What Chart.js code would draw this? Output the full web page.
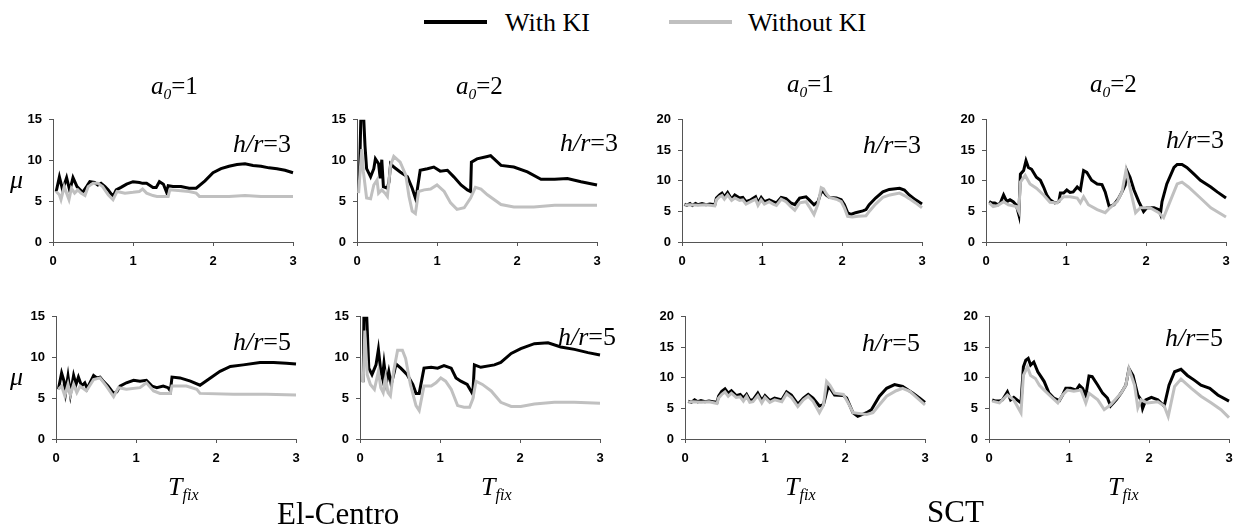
<!DOCTYPE html>
<html>
<head>
<meta charset="utf-8">
<script src="https://cdn.jsdelivr.net/npm/chart.js@4.4.1/dist/chart.umd.min.js"></script>
<style>
  html, body { margin: 0; padding: 0; background: #fff; }
  #fig { position: relative; width: 1237px; height: 529px; overflow: hidden;
         font-family: "Liberation Serif", "Times New Roman", serif; color: #000; }
  .box { position: absolute; }
  .lbl { position: absolute; white-space: nowrap; line-height: 1; }
  .sub { font-size: 0.62em; position: relative; top: 0.3em; }
  .key { position: absolute; height: 4px; width: 63px; }
</style>
</head>
<body>
<div id="fig">
  <div class="key" style="left:424px; top:20px; background:#000;"></div>
  <div class="lbl" style="left:505px; top:10px; font-size:26px;">With KI</div>
  <div class="key" style="left:669px; top:20px; background:#c0c0c0;"></div>
  <div class="lbl" style="left:748px; top:10px; font-size:26px;">Without KI</div>
</div>
<script>
// x values are T_fix, y values are ductility demand mu
const xTicks = [0, 1, 2, 3];

// El-Centro, a0 = 1, h/r = 3
const elcA1H3With = [[0.04,6.2],[0.08,8.0],[0.12,6.4],[0.17,7.9],[0.21,6.3],[0.25,7.9],[0.3,6.8],[0.33,6.5],[0.37,6.1],[0.42,6.8],[0.46,7.4],[0.52,7.3],[0.56,7.0],[0.6,7.2],[0.65,6.8],[0.69,6.4],[0.75,5.6],[0.79,6.4],[0.85,6.7],[0.92,7.1],[1.0,7.4],[1.08,7.3],[1.12,7.2],[1.17,7.2],[1.25,6.7],[1.29,6.7],[1.33,7.4],[1.38,7.1],[1.4,6.6],[1.42,6.1],[1.44,6.9],[1.5,6.8],[1.6,6.8],[1.7,6.6],[1.79,6.6],[1.9,7.5],[2.0,8.5],[2.1,9.0],[2.2,9.3],[2.3,9.5],[2.4,9.6],[2.5,9.4],[2.6,9.3],[2.7,9.1],[2.8,9.0],[2.9,8.8],[3.0,8.5]];
const elcA1H3Without = [[0.04,6.2],[0.08,5.8],[0.1,5.2],[0.14,6.8],[0.17,6.0],[0.2,5.2],[0.23,6.6],[0.27,6.0],[0.31,6.4],[0.35,6.0],[0.4,5.7],[0.44,6.8],[0.5,7.2],[0.56,7.2],[0.62,6.8],[0.69,5.8],[0.75,5.2],[0.8,6.2],[0.9,6.0],[1.0,6.1],[1.08,6.2],[1.12,6.5],[1.17,6.0],[1.25,5.7],[1.3,5.6],[1.44,5.6],[1.46,6.4],[1.6,6.3],[1.7,6.2],[1.79,6.0],[1.83,5.6],[2.0,5.6],[2.2,5.6],[2.4,5.7],[2.6,5.6],[2.8,5.6],[3.0,5.6]];

// El-Centro, a0 = 2, h/r = 3
const elcA2H3With = [[0.03,7.6],[0.05,16],[0.08,16],[0.1,11.8],[0.12,9.0],[0.17,8.0],[0.21,9.0],[0.23,10.2],[0.27,9.6],[0.29,7.8],[0.31,10.1],[0.33,6.8],[0.38,6.6],[0.4,7.4],[0.42,9.6],[0.46,9.2],[0.54,8.6],[0.63,8.0],[0.69,6.6],[0.73,5.4],[0.75,6.2],[0.79,8.8],[0.88,9.0],[0.96,9.2],[1.04,8.7],[1.13,8.8],[1.21,8.0],[1.3,7.0],[1.38,6.4],[1.42,6.2],[1.43,9.8],[1.5,10.2],[1.63,10.5],[1.67,10.6],[1.8,9.4],[1.96,9.2],[2.13,8.6],[2.3,7.7],[2.47,7.7],[2.63,7.8],[2.8,7.4],[3.0,7.0]];
const elcA2H3Without = [[0.02,6.0],[0.06,11.4],[0.08,8.6],[0.12,5.4],[0.17,5.3],[0.21,7.0],[0.25,7.6],[0.27,6.0],[0.31,6.4],[0.35,6.0],[0.38,5.6],[0.42,9.4],[0.46,10.5],[0.54,9.8],[0.61,8.2],[0.65,5.6],[0.69,3.8],[0.73,3.5],[0.77,6.2],[0.84,6.4],[0.92,6.5],[1.0,7.0],[1.09,6.2],[1.17,4.8],[1.25,4.0],[1.34,4.2],[1.42,5.4],[1.48,6.7],[1.55,6.5],[1.63,5.8],[1.8,4.6],[1.96,4.3],[2.21,4.3],[2.47,4.5],[2.72,4.5],[3.0,4.5]];

// SCT, a0 = 1, h/r = 3
const sctA1H3With = [[0.03,6.2],[0.06,6.0],[0.1,6.3],[0.13,6.0],[0.17,6.3],[0.2,6.1],[0.25,6.3],[0.3,6.1],[0.35,6.2],[0.41,6.1],[0.43,7.2],[0.47,7.7],[0.5,8.0],[0.53,7.4],[0.57,8.1],[0.62,7.0],[0.66,7.7],[0.72,7.2],[0.76,7.3],[0.8,6.6],[0.86,6.9],[0.92,7.4],[0.95,6.4],[0.99,7.3],[1.03,6.6],[1.09,6.9],[1.14,6.6],[1.18,6.4],[1.24,7.3],[1.3,7.1],[1.36,6.4],[1.41,6.1],[1.47,7.2],[1.55,7.4],[1.59,6.9],[1.65,6.1],[1.7,6.6],[1.74,8.2],[1.77,8.2],[1.8,7.7],[1.84,7.3],[1.93,7.2],[1.99,6.9],[2.03,6.1],[2.07,4.8],[2.11,4.5],[2.17,4.8],[2.26,5.1],[2.3,5.3],[2.34,6.1],[2.42,7.2],[2.51,8.2],[2.59,8.6],[2.72,8.8],[2.78,8.5],[2.84,7.7],[2.92,6.9],[3.0,6.2]];
const sctA1H3Without = [[0.03,6.0],[0.1,6.1],[0.2,6.0],[0.3,6.1],[0.41,5.9],[0.43,6.9],[0.47,7.4],[0.5,7.6],[0.53,7.0],[0.57,7.7],[0.62,6.8],[0.66,7.2],[0.72,6.8],[0.76,6.9],[0.8,6.2],[0.86,6.6],[0.92,7.0],[0.95,6.0],[0.99,6.9],[1.03,6.2],[1.09,6.6],[1.14,6.2],[1.18,6.0],[1.24,7.0],[1.3,6.6],[1.36,5.8],[1.41,5.2],[1.47,6.4],[1.55,6.6],[1.59,5.8],[1.65,4.5],[1.7,6.2],[1.74,8.9],[1.77,8.7],[1.8,8.0],[1.84,7.3],[1.93,7.0],[1.99,6.6],[2.03,5.6],[2.07,4.2],[2.13,4.1],[2.2,4.2],[2.3,4.3],[2.34,5.0],[2.42,6.2],[2.51,7.3],[2.6,7.7],[2.72,8.0],[2.78,7.6],[2.84,7.1],[2.92,6.4],[3.0,5.6]];

// SCT, a0 = 2, h/r = 3
const sctA2H3With = [[0.04,6.6],[0.07,6.4],[0.11,6.4],[0.15,6.1],[0.18,6.4],[0.22,7.7],[0.26,6.6],[0.3,6.9],[0.34,6.6],[0.38,6.0],[0.41,4.5],[0.43,11.1],[0.47,11.7],[0.5,13.3],[0.53,12.2],[0.57,11.9],[0.63,10.6],[0.68,10.1],[0.72,9.0],[0.76,7.7],[0.8,6.9],[0.86,6.4],[0.91,6.6],[0.93,8.0],[0.97,8.0],[1.01,8.5],[1.05,8.1],[1.09,8.2],[1.14,9.0],[1.18,8.5],[1.22,11.7],[1.26,11.4],[1.32,10.1],[1.39,9.5],[1.45,9.4],[1.49,8.2],[1.54,5.8],[1.6,6.1],[1.66,7.2],[1.7,8.2],[1.74,9.3],[1.76,11.7],[1.8,10.6],[1.85,8.5],[1.91,6.6],[1.97,5.0],[2.01,5.6],[2.1,5.6],[2.16,5.3],[2.18,4.6],[2.2,6.6],[2.26,9.5],[2.35,12.2],[2.39,12.7],[2.45,12.7],[2.51,12.2],[2.6,11.1],[2.68,10.1],[2.81,9.0],[2.89,8.2],[3.0,7.2]];
const sctA2H3Without = [[0.04,6.4],[0.09,5.8],[0.15,6.0],[0.22,6.6],[0.28,6.1],[0.38,5.8],[0.41,5.0],[0.43,9.8],[0.49,10.9],[0.55,9.5],[0.63,8.8],[0.72,7.7],[0.8,6.5],[0.89,6.4],[0.97,7.4],[1.05,7.4],[1.14,7.2],[1.18,6.4],[1.22,7.4],[1.28,6.1],[1.39,5.3],[1.49,4.8],[1.55,5.6],[1.64,6.6],[1.7,8.2],[1.75,11.7],[1.8,8.8],[1.87,4.8],[1.93,5.6],[2.05,5.6],[2.16,4.8],[2.22,4.0],[2.3,6.6],[2.39,9.5],[2.45,9.8],[2.53,9.0],[2.68,7.2],[2.81,5.6],[3.0,4.1]];

// El-Centro, a0 = 1, h/r = 5
const elcA1H5With = [[0.03,6.1],[0.07,8.1],[0.1,7.1],[0.12,5.7],[0.15,7.7],[0.18,5.5],[0.22,7.8],[0.25,6.7],[0.28,7.6],[0.32,6.5],[0.36,6.9],[0.39,6.2],[0.47,7.8],[0.51,7.5],[0.55,7.6],[0.59,7.1],[0.65,6.5],[0.72,5.6],[0.76,5.8],[0.8,6.5],[0.88,6.9],[0.97,7.2],[1.05,7.1],[1.13,7.2],[1.2,6.5],[1.26,6.3],[1.34,6.5],[1.4,6.3],[1.43,5.9],[1.45,7.6],[1.55,7.5],[1.68,7.1],[1.8,6.6],[1.93,7.5],[2.05,8.3],[2.18,8.9],[2.34,9.1],[2.55,9.4],[2.72,9.4],[2.88,9.3],[3.0,9.2]];
const elcA1H5Without = [[0.03,6.1],[0.07,6.5],[0.11,5.3],[0.15,6.7],[0.18,5.4],[0.22,6.7],[0.26,5.7],[0.3,6.5],[0.38,5.9],[0.47,7.3],[0.55,7.5],[0.63,6.5],[0.72,5.2],[0.78,6.3],[0.88,6.1],[1.05,6.3],[1.13,6.9],[1.22,5.9],[1.3,5.6],[1.43,5.6],[1.45,6.5],[1.63,6.5],[1.76,6.1],[1.8,5.6],[2.22,5.5],[2.63,5.5],[3.0,5.4]];

// El-Centro, a0 = 2, h/r = 5
const elcA2H5With = [[0.04,7.0],[0.05,16],[0.08,16],[0.11,8.7],[0.15,7.9],[0.2,9.1],[0.23,11.0],[0.26,8.3],[0.28,7.5],[0.3,9.3],[0.33,6.9],[0.36,8.3],[0.39,6.7],[0.43,8.3],[0.45,9.2],[0.51,8.7],[0.59,7.9],[0.66,6.7],[0.7,5.6],[0.74,5.6],[0.8,8.7],[0.89,8.8],[0.97,8.7],[1.05,9.0],[1.14,8.7],[1.2,7.5],[1.26,7.1],[1.34,6.7],[1.41,5.5],[1.43,9.1],[1.51,8.8],[1.68,9.1],[1.76,9.4],[1.89,10.5],[2.01,11.1],[2.18,11.7],[2.35,11.8],[2.51,11.3],[2.68,11.0],[2.85,10.6],[3.0,10.3]];
const elcA2H5Without = [[0.04,6.9],[0.06,13.3],[0.09,7.9],[0.13,6.7],[0.18,6.1],[0.23,8.3],[0.26,6.3],[0.29,5.7],[0.32,7.5],[0.35,5.7],[0.38,5.3],[0.42,8.3],[0.47,10.9],[0.53,10.9],[0.57,9.9],[0.63,6.7],[0.7,4.1],[0.74,3.5],[0.8,6.5],[0.89,6.5],[0.95,6.9],[1.01,7.5],[1.07,7.1],[1.14,6.1],[1.22,4.1],[1.3,3.9],[1.37,3.9],[1.41,4.9],[1.45,7.1],[1.53,6.7],[1.64,5.9],[1.76,4.5],[1.89,4.0],[2.01,4.0],[2.18,4.3],[2.43,4.5],[2.68,4.5],[3.0,4.4]];

// SCT, a0 = 1, h/r = 5
const sctA1H5With = [[0.04,6.2],[0.08,6.0],[0.12,6.4],[0.16,6.1],[0.2,6.3],[0.25,6.1],[0.3,6.2],[0.35,6.1],[0.4,6.0],[0.42,7.0],[0.46,7.8],[0.5,8.2],[0.54,7.5],[0.58,7.9],[0.64,7.1],[0.69,7.3],[0.73,6.7],[0.77,7.3],[0.81,6.4],[0.85,6.4],[0.91,7.5],[0.96,6.3],[1.0,7.1],[1.06,6.3],[1.12,6.7],[1.21,6.4],[1.27,7.7],[1.33,7.2],[1.41,5.7],[1.48,6.7],[1.54,7.3],[1.6,6.7],[1.68,5.4],[1.73,5.6],[1.79,8.6],[1.83,8.0],[1.87,7.2],[1.98,7.1],[2.02,6.7],[2.1,4.3],[2.16,3.7],[2.27,4.3],[2.33,4.8],[2.43,7.0],[2.52,8.3],[2.62,8.9],[2.72,8.6],[2.85,7.5],[2.93,6.7],[3.0,6.0]];
const sctA1H5Without = [[0.04,6.0],[0.1,6.1],[0.2,6.0],[0.3,6.1],[0.4,5.8],[0.42,6.7],[0.46,7.3],[0.5,7.7],[0.54,7.0],[0.58,7.5],[0.64,6.8],[0.69,6.9],[0.73,6.2],[0.77,7.0],[0.81,6.0],[0.85,6.1],[0.91,7.1],[0.96,5.9],[1.0,6.8],[1.06,6.0],[1.12,6.4],[1.21,6.1],[1.27,7.4],[1.33,6.8],[1.41,5.3],[1.48,6.4],[1.54,7.0],[1.6,6.2],[1.68,4.3],[1.73,5.5],[1.77,9.4],[1.81,8.8],[1.87,7.5],[1.98,7.3],[2.04,5.9],[2.1,4.3],[2.27,4.0],[2.35,4.3],[2.43,5.6],[2.52,7.0],[2.64,7.9],[2.72,8.3],[2.81,7.8],[2.93,6.4],[3.0,5.6]];

// SCT, a0 = 2, h/r = 5
const sctA2H5With = [[0.04,6.4],[0.08,6.2],[0.13,6.2],[0.17,6.4],[0.23,7.7],[0.27,6.4],[0.31,6.8],[0.35,6.4],[0.4,5.9],[0.43,11.8],[0.46,12.9],[0.49,13.2],[0.52,12.1],[0.56,12.6],[0.61,11.0],[0.65,10.2],[0.69,9.4],[0.75,7.5],[0.81,6.7],[0.88,6.3],[0.92,7.2],[0.96,8.3],[1.02,8.3],[1.09,8.0],[1.13,8.8],[1.17,8.3],[1.21,7.1],[1.25,10.3],[1.29,10.2],[1.36,8.8],[1.42,7.5],[1.48,6.7],[1.52,5.4],[1.59,6.4],[1.65,7.5],[1.71,8.8],[1.75,11.5],[1.8,10.4],[1.86,7.2],[1.9,6.4],[1.92,5.0],[1.96,6.4],[2.03,6.8],[2.11,6.4],[2.19,5.4],[2.25,8.8],[2.32,11.0],[2.4,11.4],[2.48,10.4],[2.57,9.6],[2.65,8.8],[2.76,8.3],[2.86,7.2],[3.0,6.2]];
const sctA2H5Without = [[0.04,6.2],[0.13,5.9],[0.23,7.2],[0.31,6.4],[0.4,4.3],[0.43,10.4],[0.48,11.8],[0.52,10.4],[0.58,9.9],[0.63,8.8],[0.69,8.0],[0.77,7.0],[0.86,5.9],[0.92,7.2],[0.98,8.0],[1.06,7.8],[1.15,8.0],[1.21,5.9],[1.25,7.5],[1.36,6.4],[1.44,4.8],[1.52,5.6],[1.65,7.5],[1.71,8.8],[1.75,11.5],[1.82,8.8],[1.86,5.1],[1.9,6.4],[1.98,5.9],[2.11,6.1],[2.19,5.4],[2.24,3.7],[2.32,8.6],[2.4,9.8],[2.53,8.3],[2.65,7.0],[2.78,5.9],[2.9,4.8],[3.0,3.5]];

const panels = [
  { x: 53,  y: 117, yMax: 15, ratio: 3, withKI: elcA1H3With, withoutKI: elcA1H3Without, note: [233, 131], mu: true },
  { x: 357, y: 117, yMax: 15, ratio: 3, withKI: elcA2H3With, withoutKI: elcA2H3Without, note: [560, 130] },
  { x: 682, y: 117, yMax: 20, ratio: 3, withKI: sctA1H3With, withoutKI: sctA1H3Without, note: [863, 132] },
  { x: 986, y: 117, yMax: 20, ratio: 3, withKI: sctA2H3With, withoutKI: sctA2H3Without, note: [1166, 127] },
  { x: 56,  y: 314, yMax: 15, ratio: 5, withKI: elcA1H5With, withoutKI: elcA1H5Without, note: [233, 329], mu: true },
  { x: 360, y: 314, yMax: 15, ratio: 5, withKI: elcA2H5With, withoutKI: elcA2H5Without, note: [558, 324] },
  { x: 685, y: 314, yMax: 20, ratio: 5, withKI: sctA1H5With, withoutKI: sctA1H5Without, note: [862, 330] },
  { x: 989, y: 314, yMax: 20, ratio: 5, withKI: sctA2H5With, withoutKI: sctA2H5Without, note: [1165, 325] }
];

const fig = document.getElementById('fig');

function addLabel(html, left, top, size, extra) {
  const d = document.createElement('div');
  d.className = 'lbl';
  d.innerHTML = html;
  d.style.left = left + 'px';
  d.style.top = top + 'px';
  d.style.fontSize = size + 'px';
  if (extra) Object.assign(d.style, extra);
  fig.appendChild(d);
}

const axisColor = '#555';
const tickFont = { family: '"Liberation Sans", Arial, sans-serif', size: 13, weight: 'bold' };
const PW = 240, PH = 125, padL = 45, padT = 12, padR = 12, padB = 36;

function drawPanel(p) {
  const wrap = document.createElement('div');
  wrap.className = 'box';
  wrap.style.left = (p.x - padL) + 'px';
  wrap.style.top = (p.y - padT) + 'px';
  const cv = document.createElement('canvas');
  cv.width = PW + padL + padR;
  cv.height = PH + padT + padB;
  cv.style.width = cv.width + 'px';
  cv.style.height = cv.height + 'px';
  wrap.appendChild(cv);
  fig.appendChild(wrap);

  new Chart(cv, {
    type: 'line',
    data: {
      datasets: [
        { label: 'With KI', data: p.withKI, borderColor: '#000', borderWidth: 3, order: 2,
          pointRadius: 0, tension: 0, clip: { left: 2, right: 3, top: 0, bottom: 2 } },
        { label: 'Without KI', data: p.withoutKI, borderColor: '#c0c0c0', borderWidth: 3, order: 1,
          pointRadius: 0, tension: 0, clip: { left: 2, right: 3, top: 0, bottom: 2 } }
      ]
    },
    options: {
      responsive: false,
      animation: false,
      devicePixelRatio: 1,
      layout: { padding: { left: 0, top: padT, right: padR, bottom: 0 } },
      plugins: { legend: { display: false }, tooltip: { enabled: false } },
      scales: {
        x: {
          type: 'linear', min: 0, max: 3,
          afterBuildTicks: (s) => { s.ticks = xTicks.map(v => ({ value: v })); },
          ticks: { font: tickFont, color: '#000', padding: 8, maxRotation: 0 },
          grid: { drawOnChartArea: false, drawTicks: true, tickLength: 4, color: axisColor },
          border: { display: true, color: axisColor, width: 1 },
          afterFit: (s) => { s.height = padB; }
        },
        y: {
          min: 0, max: p.yMax,
          ticks: { stepSize: 5, font: tickFont, color: '#000', padding: 7 },
          grid: { drawOnChartArea: false, drawTicks: true, tickLength: 4, color: axisColor },
          border: { display: true, color: axisColor, width: 1 },
          afterFit: (s) => { s.width = padL; }
        }
      }
    }
  });

  addLabel('<i>h/r</i>=' + p.ratio, p.note[0], p.note[1], 26);
  if (p.mu) addLabel('<i>\u03bc</i>', 10, p.y + 50, 26);
}

panels.forEach(drawPanel);

// column headings
addLabel('<i>a</i><span class="sub"><i>0</i></span>=1', 151, 73, 25);
addLabel('<i>a</i><span class="sub"><i>0</i></span>=2', 456, 73, 25);
addLabel('<i>a</i><span class="sub"><i>0</i></span>=1', 787, 71, 25);
addLabel('<i>a</i><span class="sub"><i>0</i></span>=2', 1090, 71, 25);

// x axis titles under the lower row
[168, 481, 785, 1108].forEach(left => {
  addLabel('<i>T</i><span class="sub"><i>fix</i></span>', left, 474, 26);
});

// record names
addLabel('El-Centro', 277, 498, 31);
addLabel('SCT', 927, 496, 31);
</script>
</body>
</html>
